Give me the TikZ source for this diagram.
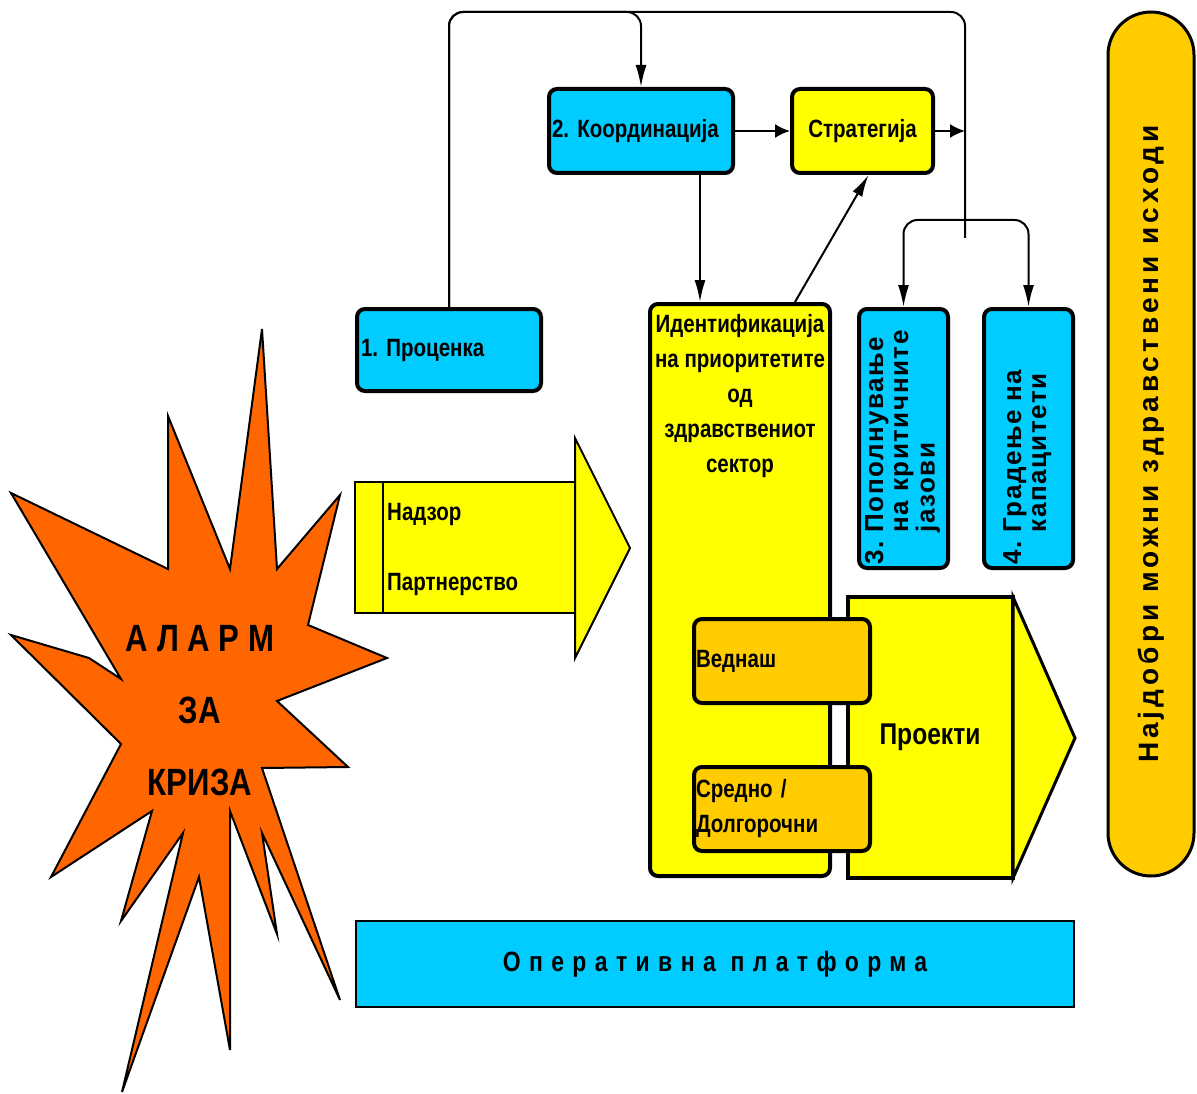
\documentclass[tikz,border=0pt]{standalone}
\usepackage{fontspec}
\setmainfont{Liberation Sans}
\newfontfamily\narrowsf[FakeStretch=0.82]{Liberation Sans}
\newfontfamily\spacedsf[LetterSpace=6]{Liberation Sans}
\newfontfamily\loosesf[LetterSpace=14.5]{Liberation Sans}
\newfontfamily\widesf[FakeStretch=0.82,LetterSpace=30]{Liberation Sans}
\usetikzlibrary{arrows.meta,positioning,calc}
\definecolor{skyblue}{HTML}{00CCFF}
\definecolor{lemon}{HTML}{FFFF00}
\definecolor{amber}{HTML}{FFCC00}
\definecolor{blaze}{HTML}{FF6600}
\frenchspacing

\begin{document}
\begin{tikzpicture}[
    x=1pt, y=-1pt,
    >={Latex[length=22pt,width=11pt]},
    font=\narrowsf\bfseries\fontsize{25}{35}\selectfont,
    block/.style={
		rectangle,
		rounded corners=8pt,
		draw=black,
		line width=4pt,
		inner sep=3pt
	},
    cyanblock/.style={block, fill=skyblue},
    lemonblock/.style={block, fill=lemon},
    amberblock/.style={block, fill=amber},
    link/.style={draw, line width=2pt, ->},
    flatlink/.style={draw, line width=2pt, -{Latex[length=15pt,width=14pt]}},
    line/.style={draw, line width=2pt},
    caption/.style={inner sep=0pt, align=left},
    sidetext/.style={font=\spacedsf\bfseries\fontsize{26}{25}\selectfont}
  ]
  \useasboundingbox (0,0) rectangle (1197,1094);

  % the crisis star
  \draw [line width=2pt, fill=blaze, line join=miter]
    (262,329) -- (277,569) -- (340,495) -- (308,625) -- (387,658) --
    (277,701) -- (348,767) -- (262,768) -- (340,1000) -- (262,833) --
    (277,934) -- (230,811) -- (230,1050) -- (199,877) -- (122,1092) --
    (183,833) -- (121,921) -- (152,811) -- (51,877) -- (121,744) --
    (11,635) -- (89,658) -- (121,679) -- (11,493) -- (168,569) --
    (168,416) -- (230,569) -- cycle;
  \node [align=center, font=\narrowsf\bfseries\fontsize{38}{72}\selectfont] (alarm)
    at (200,711) {А Л А Р М\\ЗА\\КРИЗА};

  % We start by placing the blocks
  \node [cyanblock, minimum width=184pt, minimum height=84pt, text width=178pt, align=left]
    (coord) at (641,131) {2. Координација};
  \node [lemonblock, minimum width=141pt, minimum height=84pt] (strat) at (862.5,131) {Стратегија};
  \node [cyanblock, minimum width=184pt, minimum height=82pt, text width=176pt, align=left]
    (assess) at (449,350) {1. Проценка};

  \node [lemonblock, minimum width=180pt, minimum height=572pt] (ident) at (740,590) {};
  \node [caption, align=center, below=12pt of ident.north] (identtext)
    {Идентификација\\на приоритетите\\од\\здравствениот\\сектор};

  \node [cyanblock, sidetext, minimum width=89pt, minimum height=259pt] (gaps) at (903.5,438.5)
    {\rotatebox{90}{\parbox{252pt}{\begin{tabular}{@{}l@{\ }l@{}}3. & Пополнување\\ & на критичните\\ & јазови\end{tabular}}}};
  \node [cyanblock, sidetext, minimum width=89pt, minimum height=259pt] (build) at (1028.5,438.5)
    {\rotatebox{90}{\parbox{252pt}{\begin{tabular}{@{}l@{\ }l@{}}4. & Градење на\\ & капацитети\end{tabular}}}};

  % surveillance arrow
  \draw [line width=2pt, fill=lemon] (355,482) rectangle (575,613);
  \draw [line width=2pt] (383,482) -- (383,613);
  \draw [line width=2pt, fill=lemon] (575,438) -- (630,548) -- (575,658) -- cycle;
  \node [caption, anchor=west] (watch) at (387,514) {Надзор};
  \node [caption, anchor=west] (partner) at (387,584) {Партнерство};

  % projects arrow
  \draw [line width=4pt, fill=lemon] (848,597) rectangle (1013,878);
  \draw [line width=3pt, fill=lemon, line join=miter] (1013,597) -- (1075,738) -- (1013,878) -- cycle;
  \node [caption, font=\narrowsf\bfseries\fontsize{30}{36}\selectfont] (projects) at (930,737) {Проекти};

  \node [amberblock, minimum width=176pt, minimum height=84pt, text width=172pt, inner sep=2pt, align=left]
    (now) at (782,661) {Веднаш};
  \node [amberblock, minimum width=176pt, minimum height=84pt, text width=172pt, inner sep=2pt, align=left]
    (later) at (782,809) {Средно /\\Долгорочни};

  \node [draw=black, line width=2pt, fill=skyblue, minimum width=718pt, minimum height=86pt,
    font=\widesf\bfseries\fontsize{28}{32}\selectfont] (platform) at (715,964) {Оперативна платформа};

  \node [amberblock, line width=3pt, rounded corners=43pt, minimum width=86pt, minimum height=864pt,
    font=\loosesf\bfseries\fontsize{28}{32}\selectfont]
    (outcome) at (1151,444) {\rotatebox{90}{Најдобри можни здравствени исходи}};

  % connectors
  \coordinate (topfork) at (641,12);
  \coordinate (topright) at (965,12);
  \coordinate (hub) at (965,238);
  \coordinate (split) at (965,220);

  \draw [line, rounded corners=14pt] (assess.north) |- (topright) -- (hub);
  \draw [link, rounded corners=14pt] (assess.north) |- (topfork) -- (coord.north);
  \draw [flatlink] (coord.east) -- (strat.west);
  \draw [flatlink] (strat.east) -- (strat.east -| hub);
  \draw [link] ([xshift=59pt]coord.south) -- ([xshift=-40pt]ident.north);
  \draw [link] ([xshift=55pt]ident.north) -- ([xshift=6pt]strat.south);
  \draw [link, rounded corners=14pt] (split) -| (gaps.north);
  \draw [link, rounded corners=14pt] (split) -| (build.north);

\end{tikzpicture}
\end{document}
